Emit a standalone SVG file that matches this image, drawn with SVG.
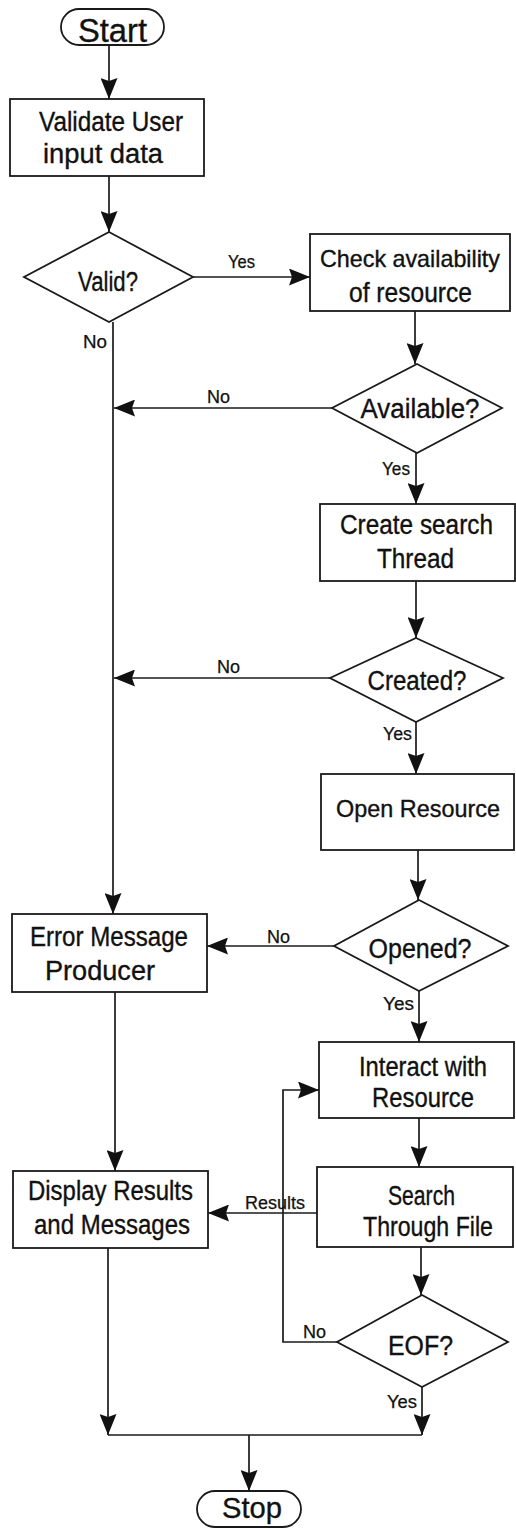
<svg xmlns="http://www.w3.org/2000/svg" width="516" height="1530" viewBox="0 0 516 1530">
<style>
  .box{fill:#fff;stroke:#1a1a1a;stroke-width:1.8}
  .t{font-family:"Liberation Sans",Arial,sans-serif;font-size:27px;fill:#111;stroke:#111;stroke-width:0.35;text-anchor:middle}
  .big{font-size:33px}
  .sm{font-size:24px}
  .lbl{font-family:"Liberation Sans",Arial,sans-serif;font-size:17.5px;fill:#111;stroke:#111;stroke-width:0.25}
  .c{fill:none;stroke:#1a1a1a;stroke-width:1.7}
</style>
<defs>
  <marker id="ah" markerUnits="userSpaceOnUse" markerWidth="22" markerHeight="17" refX="21" refY="8.5" orient="auto">
    <path d="M0,0 L21,8.5 L0,17 L3,8.5 Z" fill="#111"/>
  </marker>
</defs>
<rect width="516" height="1530" fill="#fff"/>
<g id="connectors">
  <path class="c" d="M109,45 V99" marker-end="url(#ah)"/>
  <path class="c" d="M109,176 V232" marker-end="url(#ah)"/>
  <path class="c" d="M193,277 H310" marker-end="url(#ah)"/>
  <path class="c" d="M113,322 V914" marker-end="url(#ah)"/>
  <path class="c" d="M415,311 V364" marker-end="url(#ah)"/>
  <path class="c" d="M332,408 H114" marker-end="url(#ah)"/>
  <path class="c" d="M416,453 V504" marker-end="url(#ah)"/>
  <path class="c" d="M416,581 V638" marker-end="url(#ah)"/>
  <path class="c" d="M330,678 H114" marker-end="url(#ah)"/>
  <path class="c" d="M416,722 V774" marker-end="url(#ah)"/>
  <path class="c" d="M418,850 V900" marker-end="url(#ah)"/>
  <path class="c" d="M334,946 H207" marker-end="url(#ah)"/>
  <path class="c" d="M419,991 V1042" marker-end="url(#ah)"/>
  <path class="c" d="M115,992 V1171" marker-end="url(#ah)"/>
  <path class="c" d="M419,1118 V1167" marker-end="url(#ah)"/>
  <path class="c" d="M317,1213 H208" marker-end="url(#ah)"/>
  <path class="c" d="M421,1247 V1295" marker-end="url(#ah)"/>
  <path class="c" d="M337,1342 H283 V1090 H319" marker-end="url(#ah)"/>
  <path class="c" d="M422,1387 V1435" marker-end="url(#ah)"/>
  <path class="c" d="M108,1248 V1435" marker-end="url(#ah)"/>
  <path class="c" d="M108,1435 H422"/>
  <path class="c" d="M249,1435 V1491" marker-end="url(#ah)"/>
  <text class="lbl" x="228" y="268" textLength="27" lengthAdjust="spacingAndGlyphs">Yes</text>
  <text class="lbl" x="83" y="348" textLength="24" lengthAdjust="spacingAndGlyphs">No</text>
  <text class="lbl" x="207" y="403" textLength="23" lengthAdjust="spacingAndGlyphs">No</text>
  <text class="lbl" x="382" y="475" textLength="28" lengthAdjust="spacingAndGlyphs">Yes</text>
  <text class="lbl" x="217" y="673" textLength="23" lengthAdjust="spacingAndGlyphs">No</text>
  <text class="lbl" x="383" y="740" textLength="29" lengthAdjust="spacingAndGlyphs">Yes</text>
  <text class="lbl" x="267" y="943" textLength="23" lengthAdjust="spacingAndGlyphs">No</text>
  <text class="lbl" x="383" y="1010" textLength="31" lengthAdjust="spacingAndGlyphs">Yes</text>
  <text class="lbl" x="245" y="1209" textLength="60" lengthAdjust="spacingAndGlyphs">Results</text>
  <text class="lbl" x="303" y="1338" textLength="23" lengthAdjust="spacingAndGlyphs">No</text>
  <text class="lbl" x="387" y="1408" textLength="30" lengthAdjust="spacingAndGlyphs">Yes</text>
</g>
<g id="start">
  <rect class="box" x="61" y="9" width="103" height="36" rx="18"/>
  <text class="t big" x="112.5" y="42" textLength="69" lengthAdjust="spacingAndGlyphs">Start</text>
</g>
<g id="validate">
  <rect class="box" x="10" y="99" width="194" height="77"/>
  <text class="t" x="111" y="131" textLength="144" lengthAdjust="spacingAndGlyphs">Validate User</text>
  <text class="t" x="103" y="163" textLength="120" lengthAdjust="spacingAndGlyphs">input data</text>
</g>
<g id="valid">
  <polygon class="box" points="109,232 193,277 109,322 24,277"/>
  <text class="t" x="108" y="291" textLength="60" lengthAdjust="spacingAndGlyphs">Valid?</text>
</g>
<g id="check">
  <rect class="box" x="310" y="234" width="200" height="77"/>
  <text class="t sm" x="410" y="267" textLength="180" lengthAdjust="spacingAndGlyphs">Check availability</text>
  <text class="t" x="410.5" y="302" textLength="123" lengthAdjust="spacingAndGlyphs">of resource</text>
</g>
<g id="available">
  <polygon class="box" points="417,364 502,408 417,453 332,408"/>
  <text class="t" x="420" y="418" textLength="119" lengthAdjust="spacingAndGlyphs">Available?</text>
</g>
<g id="create">
  <rect class="box" x="320" y="504" width="195" height="77"/>
  <text class="t" x="416.5" y="534" textLength="153" lengthAdjust="spacingAndGlyphs">Create search</text>
  <text class="t" x="415.5" y="568" textLength="77" lengthAdjust="spacingAndGlyphs">Thread</text>
</g>
<g id="created">
  <polygon class="box" points="416,638 503,678 416,722 330,678"/>
  <text class="t" x="417" y="690" textLength="99" lengthAdjust="spacingAndGlyphs">Created?</text>
</g>
<g id="open">
  <rect class="box" x="321" y="774" width="193" height="76"/>
  <text class="t sm" x="418" y="817" textLength="164" lengthAdjust="spacingAndGlyphs">Open Resource</text>
</g>
<g id="opened">
  <polygon class="box" points="419,900 508,946 419,991 334,946"/>
  <text class="t" x="420" y="958" textLength="103" lengthAdjust="spacingAndGlyphs">Opened?</text>
</g>
<g id="error">
  <rect class="box" x="12" y="914" width="195" height="78"/>
  <text class="t" x="109" y="946" textLength="158" lengthAdjust="spacingAndGlyphs">Error Message</text>
  <text class="t" x="100" y="980" textLength="110" lengthAdjust="spacingAndGlyphs">Producer</text>
</g>
<g id="interact">
  <rect class="box" x="319" y="1042" width="195" height="76"/>
  <text class="t" x="423" y="1076" textLength="128" lengthAdjust="spacingAndGlyphs">Interact with</text>
  <text class="t" x="423" y="1107" textLength="102" lengthAdjust="spacingAndGlyphs">Resource</text>
</g>
<g id="display">
  <rect class="box" x="13" y="1171" width="195" height="77"/>
  <text class="t" x="110.5" y="1200" textLength="165" lengthAdjust="spacingAndGlyphs">Display Results</text>
  <text class="t" x="112" y="1234" textLength="156" lengthAdjust="spacingAndGlyphs">and Messages</text>
</g>
<g id="search">
  <rect class="box" x="317" y="1167" width="196" height="80"/>
  <text class="t" x="421.5" y="1205" textLength="67" lengthAdjust="spacingAndGlyphs">Search</text>
  <text class="t" x="428" y="1236" textLength="130" lengthAdjust="spacingAndGlyphs">Through File</text>
</g>
<g id="eof">
  <polygon class="box" points="422,1295 508,1342 422,1387 337,1342"/>
  <text class="t" x="420.5" y="1355" textLength="65" lengthAdjust="spacingAndGlyphs">EOF?</text>
</g>
<g id="stop">
  <rect class="box" x="197" y="1491" width="104" height="36" rx="18"/>
  <text class="t" x="252" y="1518" style="font-size:30px" textLength="60" lengthAdjust="spacingAndGlyphs">Stop</text>
</g>
</svg>
